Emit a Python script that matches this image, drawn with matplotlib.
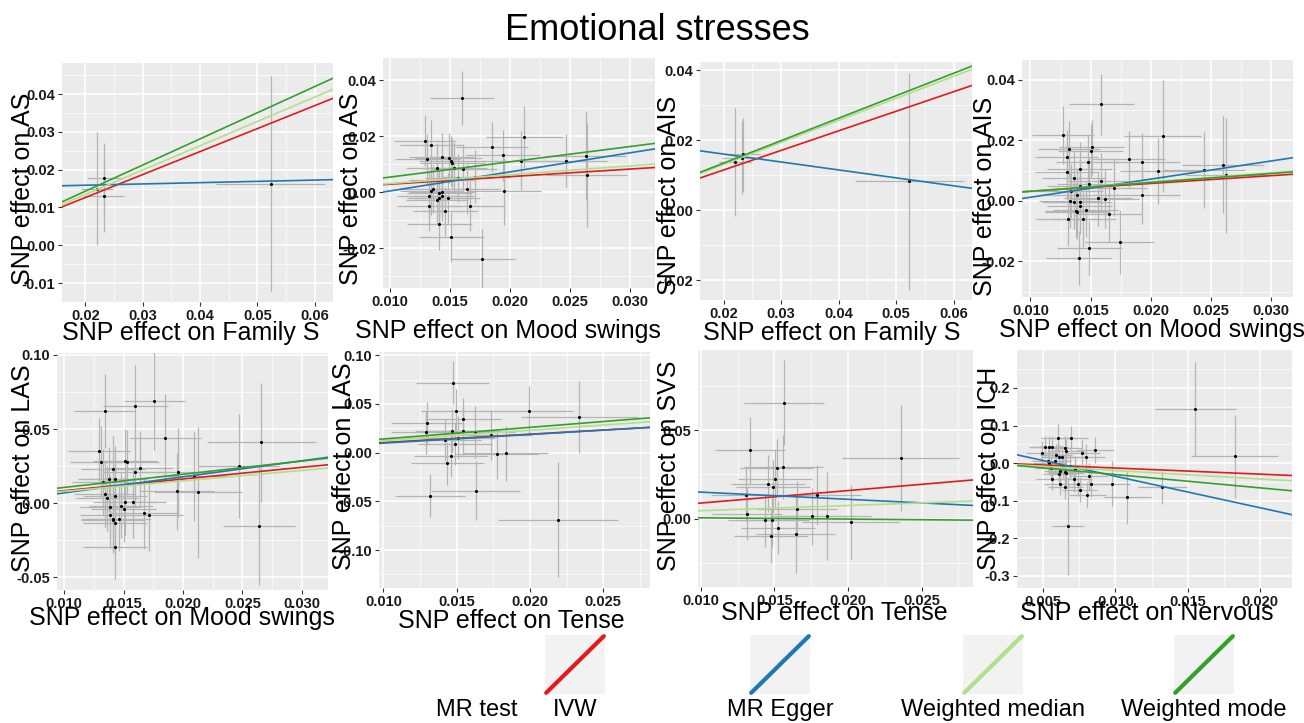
import numpy as np
import matplotlib
matplotlib.use("Agg")
import matplotlib.pyplot as plt

plt.rcParams['font.family'] = ['Liberation Sans', 'DejaVu Sans']

# ---- data ----
methods = ["IVW", "MR Egger", "Weighted median", "Weighted mode"]
method_colors = ["#e31a1c", "#1f78b4", "#b2df8a", "#33a02c"]

# panel 1: Family S -> AS
p1_x = [0.0220, 0.0233, 0.0232, 0.0523]
p1_y = [0.0150, 0.0178, 0.0131, 0.0163]
p1_sx = [0.0028, 0.0030, 0.0035, 0.0095]
p1_sy = [0.0150, 0.0093, 0.0097, 0.0285]
p1_slope = [0.607, 0.034, 0.643, 0.691]
p1_icept = [0.0005, 0.0152, 0.0006, 0.0005]

# panel 2: Mood swings -> AS
p2_x = [0.0160, 0.0129, 0.0134, 0.0131, 0.0139, 0.0143, 0.0149, 0.0151, 0.0152, 0.0153,
        0.0161, 0.0157, 0.0143, 0.0136, 0.0134, 0.0132, 0.0141, 0.0143, 0.0139, 0.0141,
        0.0143, 0.0148, 0.0132, 0.0146, 0.0141, 0.0151, 0.0177, 0.0164, 0.0167, 0.0171,
        0.0185, 0.0194, 0.0195, 0.0209, 0.0212, 0.0247, 0.0263, 0.0264]
p2_y = [0.0337, 0.0185, 0.0170, 0.0119, 0.0087, 0.0127, 0.0123, 0.0113, 0.0105, 0.0087,
        0.0085, 0.0051, 0.0043, 0.0012, 0.0006, -0.0012, -0.0002, 0.0000, -0.0026, -0.0020,
        -0.0014, -0.0020, -0.0050, -0.0068, -0.0115, -0.0160, -0.0237, 0.0011, -0.0050, 0.0055,
        0.0162, 0.0132, 0.0004, 0.0113, 0.0198, 0.0113, 0.0131, 0.0061]
p2_sx = [0.0027, 0.0026, 0.0026, 0.0027, 0.0026, 0.0027, 0.0028, 0.0027, 0.0027, 0.0028,
         0.0028, 0.0028, 0.0027, 0.0026, 0.0026, 0.0026, 0.0027, 0.0027, 0.0026, 0.0027,
         0.0027, 0.0027, 0.0026, 0.0027, 0.0027, 0.0027, 0.0027, 0.0028, 0.0028, 0.0029,
         0.0030, 0.0031, 0.0031, 0.0032, 0.0032, 0.0034, 0.0034, 0.0034]
p2_sy = [0.0095, 0.0090, 0.0088, 0.0090, 0.0088, 0.0085, 0.0088, 0.0090, 0.0088, 0.0088,
         0.0087, 0.0085, 0.0088, 0.0085, 0.0088, 0.0087, 0.0087, 0.0090, 0.0088, 0.0088,
         0.0087, 0.0088, 0.0087, 0.0087, 0.0090, 0.0088, 0.0105, 0.0090, 0.0090, 0.0095,
         0.0090, 0.0090, 0.0120, 0.0105, 0.0110, 0.0095, 0.0160, 0.0185]
p2_slope = [0.27, 0.68, 0.315, 0.545]
p2_icept = [0.0002, -0.0063, 0.0, 0.0]

# panel 3: Family S -> AIS
p3_x = [0.0220, 0.0233, 0.0232, 0.0523]
p3_y = [0.0138, 0.0160, 0.0150, 0.0083]
p3_sx = [0.0028, 0.0030, 0.0035, 0.0095]
p3_sy = [0.0155, 0.0105, 0.0105, 0.0310]
p3_slope = [0.560, -0.227, 0.630, 0.643]
p3_icept = [0.0003, 0.0206, 0.0005, 0.0006]

# panel 4: Mood swings -> AIS
p4_x = [0.0159, 0.0127, 0.0132, 0.0130, 0.0130, 0.0151, 0.0150, 0.0148, 0.0141, 0.0136,
        0.0141, 0.0149, 0.0159, 0.0169, 0.0134, 0.0139, 0.0133, 0.0136, 0.0141, 0.0141,
        0.0138, 0.0139, 0.0146, 0.0144, 0.0131, 0.0156, 0.0162, 0.0165, 0.0149, 0.0140,
        0.0174, 0.0182, 0.0193, 0.0193, 0.0206, 0.0210, 0.0244, 0.0260, 0.0262]
p4_y = [0.0319, 0.0218, 0.0172, 0.0146, 0.0096, 0.0177, 0.0165, 0.0129, 0.0104, 0.0074,
        0.0050, 0.0055, 0.0065, 0.0044, 0.0033, 0.0019, 0.0001, -0.0003, -0.0004, -0.0018,
        -0.0032, -0.0036, -0.0029, -0.0061, -0.0059, 0.0008, 0.0006, -0.0042, -0.0156, -0.0189,
        -0.0136, 0.0137, 0.0129, 0.0019, 0.0098, 0.0214, 0.0102, 0.0120, 0.0085]
p4_sx = [0.0027, 0.0026, 0.0026, 0.0026, 0.0026, 0.0027, 0.0027, 0.0027, 0.0027, 0.0026,
         0.0027, 0.0027, 0.0028, 0.0028, 0.0026, 0.0027, 0.0026, 0.0026, 0.0027, 0.0027,
         0.0026, 0.0027, 0.0027, 0.0027, 0.0026, 0.0028, 0.0028, 0.0028, 0.0027, 0.0027,
         0.0029, 0.0030, 0.0031, 0.0031, 0.0032, 0.0032, 0.0034, 0.0034, 0.0034]
p4_sy = [0.0100, 0.0095, 0.0092, 0.0090, 0.0090, 0.0090, 0.0090, 0.0090, 0.0092, 0.0090,
         0.0090, 0.0090, 0.0092, 0.0095, 0.0090, 0.0090, 0.0090, 0.0090, 0.0090, 0.0090,
         0.0090, 0.0090, 0.0090, 0.0090, 0.0090, 0.0092, 0.0095, 0.0095, 0.0090, 0.0090,
         0.0105, 0.0095, 0.0095, 0.0095, 0.0110, 0.0185, 0.0125, 0.0160, 0.0190]
p4_slope = [0.258, 0.60, 0.307, 0.295]
p4_icept = [0.0006, -0.0048, 0.0001, 0.0002]

# panel 5: Mood swings -> LAS
p5_x = [0.0176, 0.0160, 0.0134, 0.0185, 0.0266, 0.0129, 0.0131, 0.0151, 0.0153, 0.0164,
        0.0160, 0.0141, 0.0247, 0.0196, 0.0209, 0.0138, 0.0143, 0.0133, 0.0195, 0.0213,
        0.0134, 0.0143, 0.0136, 0.0151, 0.0158, 0.0139, 0.0148, 0.0150, 0.0167, 0.0171,
        0.0139, 0.0141, 0.0146, 0.0141, 0.0143, 0.0264, 0.0143]
p5_y = [0.0687, 0.0653, 0.0619, 0.0437, 0.0410, 0.0354, 0.0279, 0.0282, 0.0275, 0.0236,
        0.0212, 0.0232, 0.0252, 0.0209, 0.0182, 0.0162, 0.0164, 0.0142, 0.0079, 0.0072,
        0.0061, 0.0050, 0.0032, 0.0005, 0.0005, -0.0027, -0.0018, -0.0041, -0.0068, -0.0083,
        -0.0083, -0.0106, -0.0106, -0.0117, -0.0137, -0.0153, -0.0293]
p5_sx = [0.0026, 0.0027, 0.0026, 0.0030, 0.0046, 0.0026, 0.0026, 0.0027, 0.0027, 0.0028,
         0.0027, 0.0027, 0.0034, 0.0031, 0.0032, 0.0026, 0.0027, 0.0026, 0.0031, 0.0037,
         0.0026, 0.0027, 0.0026, 0.0027, 0.0028, 0.0026, 0.0027, 0.0027, 0.0028, 0.0029,
         0.0026, 0.0027, 0.0027, 0.0027, 0.0027, 0.0030, 0.0027]
p5_sy = [0.033, 0.028, 0.025, 0.030, 0.040, 0.022, 0.024, 0.022, 0.022, 0.025,
         0.024, 0.022, 0.035, 0.030, 0.030, 0.022, 0.022, 0.022, 0.026, 0.044,
         0.022, 0.022, 0.022, 0.022, 0.024, 0.022, 0.022, 0.022, 0.024, 0.024,
         0.022, 0.022, 0.022, 0.022, 0.022, 0.040, 0.022]
p5_slope = [0.789, 1.083, 0.706, 0.89]
p5_icept = [0.0005, -0.0039, 0.0009, 0.0017]

# panel 6: Tense -> LAS
p6_x = [0.01473, 0.01495, 0.01995, 0.02336, 0.01545, 0.01295, 0.01291, 0.01466, 0.01545, 0.01625,
        0.01736, 0.01509, 0.01423, 0.01489, 0.01461, 0.01773, 0.01836, 0.01436, 0.01632, 0.01316,
        0.02189]
p6_y = [0.0717, 0.0430, 0.0427, 0.0362, 0.0345, 0.0300, 0.0208, 0.0225, 0.0225, 0.0208,
        0.0181, 0.0154, 0.0130, 0.0089, -0.0031, -0.0017, -0.0007, -0.0109, -0.0389, -0.0440,
        -0.0689]
p6_sx = [0.0025, 0.0024, 0.0030, 0.0040, 0.0026, 0.0024, 0.0024, 0.0025, 0.0026, 0.0027,
         0.0028, 0.0025, 0.0024, 0.0025, 0.0025, 0.0028, 0.0029, 0.0025, 0.0030, 0.0024,
         0.0041]
p6_sy = [0.022, 0.022, 0.026, 0.037, 0.022, 0.022, 0.022, 0.022, 0.025, 0.027,
         0.026, 0.022, 0.022, 0.022, 0.022, 0.025, 0.028, 0.022, 0.030, 0.022,
         0.059]
p6_slope = [0.854, 0.89, 1.065, 1.195]
p6_icept = [0.0019, 0.0009, 0.0017, 0.0021]

# panel 7: Tense -> SVS
p7_x = [0.01564, 0.01334, 0.02357, 0.01514, 0.01561, 0.01505, 0.01455, 0.01489, 0.01307, 0.01791,
        0.01314, 0.01652, 0.01755, 0.01857, 0.01436, 0.01482, 0.02018, 0.01523, 0.01643, 0.01477]
p7_y = [0.0655, 0.0387, 0.0340, 0.0287, 0.0292, 0.0226, 0.0198, 0.0179, 0.0132, 0.0132,
        0.0028, 0.0055, 0.0013, 0.0013, -0.0011, -0.0009, -0.0019, -0.0053, -0.0089, -0.0100]
p7_sx = [0.0027, 0.0024, 0.0040, 0.0025, 0.0027, 0.0025, 0.0025, 0.0025, 0.0024, 0.0030,
         0.0024, 0.0027, 0.0028, 0.0030, 0.0025, 0.0025, 0.0033, 0.0025, 0.0027, 0.0025]
p7_sy = [0.024, 0.019, 0.030, 0.016, 0.018, 0.016, 0.016, 0.015, 0.015, 0.017,
         0.015, 0.016, 0.016, 0.025, 0.015, 0.015, 0.021, 0.015, 0.022, 0.015]
p7_slope = [0.706, -0.406, 0.294, -0.07]
p7_icept = [0.0017, 0.0190, 0.0015, 0.0011]

# panel 8: Nervous -> ICH
p8_x = [0.01553, 0.01823, 0.01325, 0.01083, 0.00979, 0.00673, 0.00604, 0.00691, 0.00516, 0.00565,
        0.00540, 0.00650, 0.00862, 0.00661, 0.00495, 0.00770, 0.00592, 0.00608, 0.00800, 0.00631,
        0.00535, 0.00581, 0.00541, 0.00638, 0.00684, 0.00553, 0.00719, 0.00615, 0.00650, 0.00608,
        0.00661, 0.00818, 0.00562, 0.00714, 0.00829, 0.00615, 0.00742, 0.00654, 0.00753, 0.00806]
p8_y = [0.1434, 0.0186, -0.0646, -0.0912, -0.0549, -0.1680, 0.0681, 0.0664, 0.0425, 0.0425,
        0.0425, 0.0398, 0.0354, 0.0336, 0.0283, 0.0283, 0.0221, 0.0177, 0.0177, 0.0159,
        0.0071, 0.0071, 0.0000, -0.0071, -0.0088, -0.0133, -0.0159, -0.0221, -0.0248, -0.0292,
        -0.0265, -0.0354, -0.0425, -0.0425, -0.0549, -0.0549, -0.0549, -0.0637, -0.0708, -0.0841]
p8_sx = [0.0028, 0.0030, 0.0017, 0.0016, 0.0012, 0.0011, 0.0012, 0.0012, 0.0011, 0.0011,
         0.0011, 0.0012, 0.0013, 0.0012, 0.0011, 0.0012, 0.0011, 0.0012, 0.0013, 0.0012,
         0.0011, 0.0011, 0.0011, 0.0012, 0.0012, 0.0011, 0.0012, 0.0011, 0.0012, 0.0011,
         0.0012, 0.0013, 0.0011, 0.0012, 0.0013, 0.0011, 0.0012, 0.0012, 0.0012, 0.0013]
p8_sy = [0.125, 0.110, 0.045, 0.070, 0.060, 0.130, 0.035, 0.032, 0.030, 0.030,
         0.030, 0.032, 0.035, 0.032, 0.030, 0.034, 0.030, 0.032, 0.034, 0.032,
         0.030, 0.030, 0.030, 0.032, 0.032, 0.030, 0.033, 0.030, 0.032, 0.030,
         0.032, 0.035, 0.030, 0.033, 0.035, 0.030, 0.033, 0.032, 0.033, 0.035]
p8_slope = [-1.63, -8.38, -2.24, -3.54]
p8_icept = [0.0034, 0.049, 0.0028, 0.0051]

xlabels = ["SNP effect on Family S", "SNP effect on Mood swings", "SNP effect on Family S",
           "SNP effect on Mood swings", "SNP effect on Mood swings", "SNP effect on Tense",
           "SNP effect on Tense", "SNP effect on Nervous"]
ylabels = ["SNP effect on AS", "SNP effect on AS", "SNP effect on AIS", "SNP effect on AIS",
           "SNP effect on LAS", "SNP effect on LAS", "SNP effect on SVS", "SNP effect on ICH"]

xt_fam = [0.02, 0.03, 0.04, 0.05, 0.06]
xt_mood = [0.010, 0.015, 0.020, 0.025, 0.030]
xt_tense = [0.010, 0.015, 0.020, 0.025]
xt_nerv = [0.005, 0.010, 0.015, 0.020]
yt_p1 = [-0.01, 0.00, 0.01, 0.02, 0.03, 0.04]
yt_as = [-0.02, 0.00, 0.02, 0.04]
yt_p5 = [-0.05, 0.00, 0.05, 0.10]
yt_p6 = [-0.10, -0.05, 0.00, 0.05, 0.10]
yt_p7 = [0.00, 0.05]
yt_p8 = [-0.3, -0.2, -0.1, 0.0, 0.1, 0.2]

# ---- layout (pixels) ----
W, H = 1304, 723
fig = plt.figure(figsize=(W / 100, H / 100), dpi=100)


def fbox(x0, y0, x1, y1):
    return [x0 / W, 1 - y1 / H, (x1 - x0) / W, (y1 - y0) / H]


panels = [
    dict(x=p1_x, y=p1_y, sx=p1_sx, sy=p1_sy, slope=p1_slope, icept=p1_icept,
         rect=(62, 63, 333, 302), xlim=(0.0159, 0.0632), ylim=(-0.015, 0.0482),
         xt=xt_fam, yt=yt_p1, xf="{:.2f}", yf="{:.2f}", xl=(191, 333), yl=(23, 189)),
    dict(x=p2_x, y=p2_y, sx=p2_sx, sy=p2_sy, slope=p2_slope, icept=p2_icept,
         rect=(383, 58, 655, 288), xlim=(0.0094, 0.0321), ylim=(-0.0342, 0.048),
         xt=xt_mood, yt=yt_as, xf="{:.3f}", yf="{:.2f}", xl=(508, 331), yl=(351, 189)),
    dict(x=p3_x, y=p3_y, sx=p3_sx, sy=p3_sy, slope=p3_slope, icept=p3_icept,
         rect=(700, 62, 972, 300), xlim=(0.0159, 0.0632), ylim=(-0.0257, 0.0424),
         xt=xt_fam, yt=yt_as, xf="{:.2f}", yf="{:.2f}", xl=(832, 333), yl=(669, 195)),
    dict(x=p4_x, y=p4_y, sx=p4_sx, sy=p4_sy, slope=p4_slope, icept=p4_icept,
         rect=(1022, 60, 1293, 297), xlim=(0.0093, 0.0318), ylim=(-0.0318, 0.0466),
         xt=xt_mood, yt=yt_as, xf="{:.3f}", yf="{:.2f}", xl=(1152, 330), yl=(985, 196)),
    dict(x=p5_x, y=p5_y, sx=p5_sx, sy=p5_sy, slope=p5_slope, icept=p5_icept,
         rect=(57, 353, 328, 590), xlim=(0.0094, 0.0322), ylim=(-0.0586, 0.1013),
         xt=xt_mood, yt=yt_p5, xf="{:.3f}", yf="{:.2f}", xl=(182, 618), yl=(23, 468)),
    dict(x=p6_x, y=p6_y, sx=p6_sx, sy=p6_sy, slope=p6_slope, icept=p6_icept,
         rect=(379, 352, 650, 588), xlim=(0.0097, 0.0282), ylim=(-0.139, 0.1034),
         xt=xt_tense, yt=yt_p6, xf="{:.3f}", yf="{:.2f}", xl=(511, 621), yl=(344, 466)),
    dict(x=p7_x, y=p7_y, sx=p7_sx, sy=p7_sy, slope=p7_slope, icept=p7_icept,
         rect=(698, 350, 973, 587), xlim=(0.0098, 0.0285), ylim=(-0.0387, 0.0953),
         xt=xt_tense, yt=yt_p7, xf="{:.3f}", yf="{:.2f}", xl=(834, 613), yl=(669, 466)),
    dict(x=p8_x, y=p8_y, sx=p8_sx, sy=p8_sy, slope=p8_slope, icept=p8_icept,
         rect=(1017, 350, 1292, 588), xlim=(0.0032, 0.0222), ylim=(-0.332, 0.301),
         xt=xt_nerv, yt=yt_p8, xf="{:.3f}", yf="{:.1f}", xl=(1147, 613), yl=(989, 468)),
]


def minors(ticks, lo, hi):
    step = ticks[1] - ticks[0]
    m = np.arange(ticks[0] - step / 2, ticks[-1] + step, step)
    return [v for v in m if lo <= v <= hi]


for i, p in enumerate(panels):
    ax = fig.add_axes(fbox(*p["rect"]))
    ax.set_facecolor("#ebebeb")
    for s in ax.spines.values():
        s.set_visible(False)
    ax.set_axisbelow(True)

    ax.errorbar(p["x"], p["y"], xerr=p["sx"], yerr=p["sy"], fmt="none",
                ecolor="#b4b4b4", elinewidth=0.9, capsize=0, zorder=1)
    ax.scatter(p["x"], p["y"], s=5, color="black", zorder=3, linewidths=0)
    for m in range(4):
        ax.axline((0, p["icept"][m]), slope=p["slope"][m], color=method_colors[m],
                  lw=1.2, zorder=4)

    ax.set_xlim(*p["xlim"])
    ax.set_ylim(*p["ylim"])
    ax.set_xticks(p["xt"])
    ax.set_xticklabels([p["xf"].format(v) for v in p["xt"]])
    ax.set_yticks(p["yt"])
    ax.set_yticklabels([p["yf"].format(v) for v in p["yt"]])
    ax.set_xticks(minors(p["xt"], *p["xlim"]), minor=True)
    ax.set_yticks(minors(p["yt"], *p["ylim"]), minor=True)
    ax.grid(which="major", color="white", lw=1.1)
    ax.grid(which="minor", color="white", lw=0.5)
    ax.tick_params(which="major", length=3, width=0.8, color="#333333",
                   labelsize=10.5, pad=2, labelcolor="#1a1a1a")
    ax.tick_params(which="minor", length=0)
    for lab in ax.get_xticklabels() + ax.get_yticklabels():
        lab.set_fontweight("bold")

    ax.set_xlabel(xlabels[i], fontsize=18, va="center")
    ax.set_ylabel(ylabels[i], fontsize=18, va="center")
    ax.xaxis.set_label_coords(p["xl"][0] / W, 1 - p["xl"][1] / H, transform=fig.transFigure)
    ax.yaxis.set_label_coords(p["yl"][0] / W, 1 - p["yl"][1] / H, transform=fig.transFigure)

fig.text(657 / W, 1 - 40 / H, "Emotional stresses", fontsize=26, ha="center", va="baseline")

# ---- legend along the bottom ----
key_left = [545, 750, 963, 1174]
fig.text(518 / W, 1 - 716 / H, "MR test", fontsize=17, ha="right", va="baseline")
for m in range(4):
    kx = key_left[m]
    kax = fig.add_axes(fbox(kx, 635, kx + 60, 694))
    kax.set_facecolor("#f2f2f2")
    for s in kax.spines.values():
        s.set_visible(False)
    kax.set_xticks([])
    kax.set_yticks([])
    kax.set_xlim(0, 1)
    kax.set_ylim(0, 1)
    kax.plot([0.02, 0.98], [0.02, 0.98], color=method_colors[m], lw=3,
             solid_capstyle="round", clip_on=False)
    fig.text((kx + 30) / W, 1 - 716 / H, methods[m], fontsize=17, ha="center", va="baseline")

fig.savefig("out.png", dpi=100)
